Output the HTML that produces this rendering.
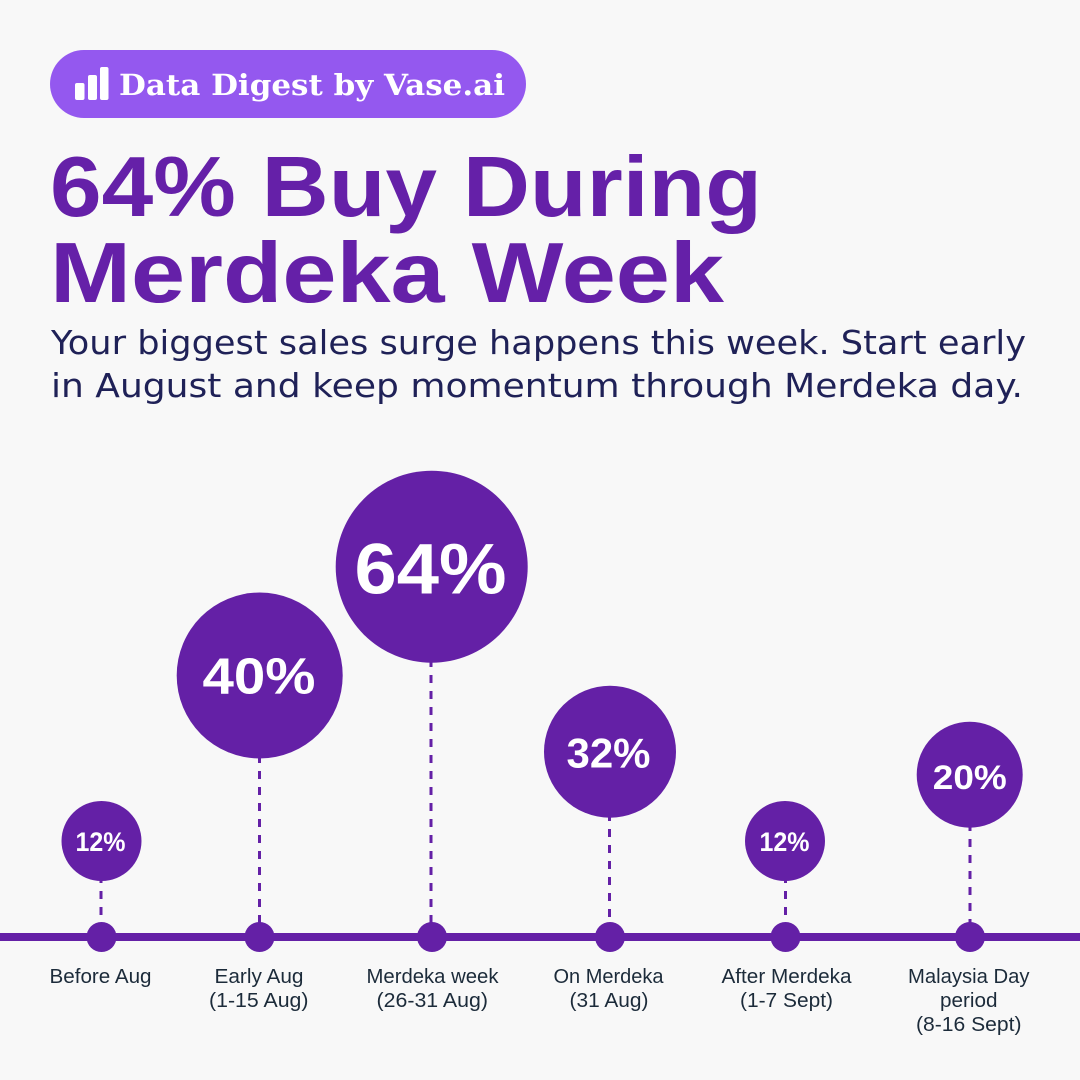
<!DOCTYPE html>
<html>
<head>
<meta charset="utf-8">
<style>
html,body{margin:0;padding:0;background:#f8f8f8;}
svg{display:block;}
</style>
</head>
<body>
<svg width="1080" height="1080" viewBox="0 0 1080 1080" xmlns="http://www.w3.org/2000/svg">
  <rect x="0" y="0" width="1080" height="1080" fill="#f8f8f8"/>

  <!-- Badge -->
  <rect x="50" y="50" width="476" height="68" rx="34" ry="34" fill="#9458ef"/>
  <rect x="75" y="83" width="9.5" height="17" rx="2" fill="#ffffff"/>
  <rect x="88" y="75" width="9" height="25" rx="2" fill="#ffffff"/>
  <rect x="100" y="67" width="8.5" height="33" rx="2" fill="#ffffff"/>
  <text x="119" y="95" font-family="'DejaVu Serif','Liberation Serif',serif" font-weight="bold" font-size="29" fill="#ffffff" textLength="386" lengthAdjust="spacingAndGlyphs">Data Digest by Vase.ai</text>

  <!-- Title -->
  <text x="50" y="216" font-family="'Liberation Sans',sans-serif" font-weight="bold" font-size="85" fill="#6520a8" textLength="712" lengthAdjust="spacingAndGlyphs">64% Buy During</text>
  <text x="50" y="302" font-family="'Liberation Sans',sans-serif" font-weight="bold" font-size="85" fill="#6520a8" textLength="674" lengthAdjust="spacingAndGlyphs">Merdeka Week</text>

  <!-- Subtitle -->
  <text x="51" y="354" font-family="'DejaVu Sans','Liberation Sans',sans-serif" font-size="33" fill="#1f2157" textLength="975" lengthAdjust="spacingAndGlyphs">Your biggest sales surge happens this week. Start early</text>
  <text x="51" y="397" font-family="'DejaVu Sans','Liberation Sans',sans-serif" font-size="33" fill="#1f2157" textLength="972" lengthAdjust="spacingAndGlyphs">in August and keep momentum through Merdeka day.</text>

  <!-- Dashed connectors -->
  <g stroke="#6420a6" stroke-width="3" stroke-dasharray="8 8" fill="none">
    <line x1="101" y1="875" x2="101" y2="930"/>
    <line x1="259.5" y1="755" x2="259.5" y2="930"/>
    <line x1="431" y1="659" x2="431" y2="930"/>
    <line x1="609.5" y1="813" x2="609.5" y2="930"/>
    <line x1="785.5" y1="875" x2="785.5" y2="930"/>
    <line x1="970" y1="823" x2="970" y2="930"/>
  </g>

  <!-- Axis -->
  <rect x="0" y="933" width="1080" height="8" fill="#6420a6"/>
  <g fill="#6420a6">
    <circle cx="101.5" cy="937" r="15"/>
    <circle cx="259.5" cy="937" r="15"/>
    <circle cx="432" cy="937" r="15"/>
    <circle cx="610" cy="937" r="15"/>
    <circle cx="785.5" cy="937" r="15"/>
    <circle cx="970" cy="937" r="15"/>
  </g>

  <!-- Bubbles -->
  <g fill="#6420a6">
    <circle cx="101.5" cy="841" r="40"/>
    <circle cx="259.7" cy="675.5" r="83"/>
    <circle cx="431.7" cy="566.7" r="96"/>
    <circle cx="610" cy="751.7" r="66"/>
    <circle cx="785" cy="841" r="40"/>
    <circle cx="969.7" cy="774.7" r="53"/>
  </g>

  <!-- Bubble labels -->
  <g font-family="'Liberation Sans',sans-serif" font-weight="bold" fill="#ffffff">
    <text x="75.5" y="851" font-size="26.5" textLength="50" lengthAdjust="spacingAndGlyphs">12%</text>
    <text x="202.5" y="693.5" font-size="51" textLength="113" lengthAdjust="spacingAndGlyphs">40%</text>
    <text x="354.5" y="593.5" font-size="71" textLength="152" lengthAdjust="spacingAndGlyphs">64%</text>
    <text x="566.5" y="767.5" font-size="42" textLength="84" lengthAdjust="spacingAndGlyphs">32%</text>
    <text x="759.5" y="851" font-size="26.5" textLength="50" lengthAdjust="spacingAndGlyphs">12%</text>
    <text x="932.8" y="789" font-size="34.5" textLength="74" lengthAdjust="spacingAndGlyphs">20%</text>
  </g>

  <!-- Axis labels -->
  <g font-family="'Liberation Sans',sans-serif" font-size="20" fill="#1c2b3a">
    <text x="49.5" y="983" textLength="102" lengthAdjust="spacingAndGlyphs">Before Aug</text>

    <text x="214.5" y="983" textLength="89" lengthAdjust="spacingAndGlyphs">Early Aug</text>
    <text x="209" y="1007" textLength="99.5" lengthAdjust="spacingAndGlyphs">(1-15 Aug)</text>

    <text x="366.5" y="983" textLength="132" lengthAdjust="spacingAndGlyphs">Merdeka week</text>
    <text x="376.5" y="1007" textLength="111.5" lengthAdjust="spacingAndGlyphs">(26-31 Aug)</text>

    <text x="553.5" y="983" textLength="110" lengthAdjust="spacingAndGlyphs">On Merdeka</text>
    <text x="569.5" y="1007" textLength="79" lengthAdjust="spacingAndGlyphs">(31 Aug)</text>

    <text x="721.5" y="983" textLength="130" lengthAdjust="spacingAndGlyphs">After Merdeka</text>
    <text x="740" y="1007" textLength="93" lengthAdjust="spacingAndGlyphs">(1-7 Sept)</text>

    <text x="908" y="983" textLength="121.5" lengthAdjust="spacingAndGlyphs">Malaysia Day</text>
    <text x="940" y="1007" textLength="57.5" lengthAdjust="spacingAndGlyphs">period</text>
    <text x="916" y="1031" textLength="105.5" lengthAdjust="spacingAndGlyphs">(8-16 Sept)</text>
  </g>
</svg>
</body>
</html>
